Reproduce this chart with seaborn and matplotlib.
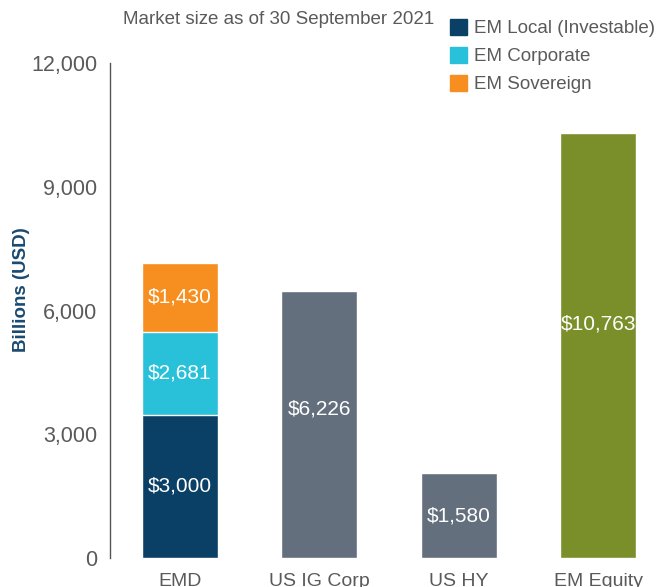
import numpy as np
import pandas as pd
import matplotlib
matplotlib.use("Agg")
import matplotlib.pyplot as plt
import seaborn as sns
from matplotlib.patches import Patch

categories = ["EMD", "US IG Corp", "US HY", "EM Equity"]
# bar heights as drawn (billions USD)
bar_heights = [None, 6470, 2060, 10300]
emd_parts = ["EM Local (Investable)", "EM Corporate", "EM Sovereign"]
emd_heights = [3470, 2020, 1660]
emd_labels = ["$3,000", "$2,681", "$1,430"]
bar_labels = [None, "$6,226", "$1,580", "$10,763"]
yticks = [0, 3000, 6000, 9000, 12000]

c_local = "#0b4066"
c_corp = "#29c1da"
c_sov = "#f68f1f"
c_us = "#646f7e"
c_eq = "#7a8f29"
txt = "#5a5a5a"

sns.set_style("white")
plt.rcParams["font.family"] = ["Liberation Sans", "DejaVu Sans"]

fig = plt.figure(figsize=(6.64, 5.87), dpi=100)
ax = fig.add_axes([110 / 664, 29 / 587, 551 / 664, 495 / 587])

emd_cum = np.cumsum(emd_heights)
totals = [emd_cum[-1]] + bar_heights[1:]
df = pd.DataFrame({"cat": categories, "val": totals})
pal = {"EMD": c_sov, "US IG Corp": c_us, "US HY": c_us, "EM Equity": c_eq}
w = 0.545
sns.barplot(data=df, x="cat", y="val", hue="cat", palette=pal, order=categories,
            width=w, legend=False, ax=ax, saturation=1)
sns.barplot(x=["EMD"], y=[emd_cum[1]], order=categories, color=c_corp,
            width=w, ax=ax, saturation=1)
sns.barplot(x=["EMD"], y=[emd_cum[0]], order=categories, color=c_local,
            width=w, ax=ax, saturation=1)

# value labels
lab_kw = dict(ha="center", va="center", color="white", fontsize=15)
bottoms = np.concatenate([[0], emd_cum[:-1]])
for b, h, s in zip(bottoms, emd_heights, emd_labels):
    ax.text(0, b + h / 2, s, **lab_kw)
frac = [None, 0.56, 0.5, 0.55]
for i in range(1, 4):
    ax.text(i, bar_heights[i] * frac[i], bar_labels[i], **lab_kw)

ax.set_xlim(-0.5, 3.45)
ax.set_ylim(0, 12000)
ax.set_yticks(yticks)
ax.set_yticklabels([f"{v:,}" for v in yticks])
ax.set_xlabel("")
ax.set_ylabel("")
ax.tick_params(axis="x", length=0, pad=11, labelsize=14, labelcolor=txt)
ax.tick_params(axis="y", length=0, pad=9, labelsize=15.5, labelcolor=txt)
sns.despine(ax=ax, top=True, right=True, bottom=True)
ax.spines["left"].set_color("#555555")
ax.spines["left"].set_linewidth(1.0)

fig.text(22 / 664, 1 - 290 / 587, "Billions (USD)", rotation=90, ha="center",
         va="center", fontsize=13.5, fontweight="bold", color="#1a4a70")
fig.text(123 / 664, 1 - 20 / 587, "Market size as of 30 September 2021",
         ha="left", va="center", fontsize=13.5, color=txt)

handles = [Patch(color=c) for c in [c_local, c_corp, c_sov]]
fig.legend(handles, emd_parts, loc="upper left",
           bbox_to_anchor=(450 / 664, 1 - 19 / 587), frameon=False,
           fontsize=13.5, handlelength=0.9, handleheight=0.9,
           handletextpad=0.4, labelspacing=0.52, borderpad=0,
           borderaxespad=0, labelcolor=txt)

fig.savefig("out.png", dpi=100)
